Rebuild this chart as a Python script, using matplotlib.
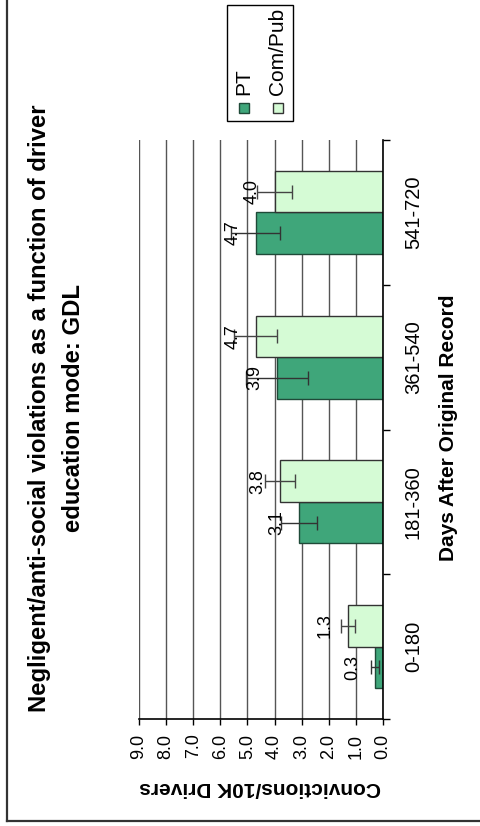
import matplotlib
matplotlib.use("Agg")
import matplotlib.pyplot as plt
import numpy as np
from matplotlib.patches import Rectangle
from matplotlib.lines import Line2D

plt.rcParams['font.family'] = ['Liberation Sans', 'DejaVu Sans']

categories = ["0-180", "181-360", "361-540", "541-720"]
series_names = ["PT", "Com/Pub"]
pt_values = [0.3, 3.1, 3.9, 4.7]
pub_values = [1.3, 3.8, 4.7, 4.0]
pt_err = [0.15, 0.65, 1.15, 0.9]
pub_err = [0.25, 0.55, 0.8, 0.65]
value_ticks = [0, 1, 2, 3, 4, 5, 6, 7, 8, 9]
title_lines = ["Negligent/anti-social violations as a function of driver",
               "education mode: GDL"]
value_title = "Convictions/10K Drivers"
cat_title = "Days After Original Record"

colors = ["#3fa67a", "#d5fbd5"]
edges = ["#1f4a38", "#333333"]

W, H = 481, 826
fig = plt.figure(figsize=(W / 100, H / 100), dpi=100)

def fx(px):
    return px / W

def fy(py):
    return 1 - py / H

ax = fig.add_axes([fx(139), fy(719), fx(383) - fx(139), fy(140) - fy(719)])

y = np.arange(len(categories))
w = 0.286
ax.barh(y - w / 2, pt_values, height=w, color=colors[0], edgecolor=edges[0], linewidth=1.0, zorder=3)
ax.barh(y + w / 2, pub_values, height=w, color=colors[1], edgecolor=edges[1], linewidth=1.0, zorder=3)
ax.errorbar(pt_values, y - w / 2, xerr=pt_err, fmt='none', ecolor='#333333', elinewidth=1.0, capsize=5, capthick=1.0, zorder=4)
ax.errorbar(pub_values, y + w / 2, xerr=pub_err, fmt='none', ecolor='#444444', elinewidth=1.0, capsize=5, capthick=1.0, zorder=4)

for vals, off in ((pt_values, -w / 2), (pub_values, w / 2)):
    for i, v in enumerate(vals):
        ax.annotate(f"{v:.1f}", (v, i + off), xytext=(-16, 0), textcoords='offset points',
                    rotation=90, ha='center', va='center', fontsize=13, zorder=5)

ax.set_xlim(9, 0)
ax.set_ylim(-0.5, len(categories) - 0.5)
ax.set_xticks(value_ticks)
ax.set_xticklabels([f"{t:.1f}" for t in value_ticks], rotation=90, fontsize=13)
ax.tick_params(axis='x', direction='out', length=4.5, width=1, pad=6, colors='black')

ax.yaxis.tick_right()
ax.set_yticks(y)
ax.set_yticklabels(categories, rotation=90, fontsize=14.5, va='center')
ax.set_yticks(np.arange(len(categories) + 1) - 0.5, minor=True)
ax.tick_params(axis='y', which='major', length=0, pad=15)
ax.tick_params(axis='y', which='minor', direction='out', length=5, width=1)

ax.grid(axis='x', color='#555555', linewidth=1.0, zorder=0)
for s in ('left', 'top'):
    ax.spines[s].set_visible(False)
ax.spines['bottom'].set_linewidth(1.2)
ax.spines['right'].set_linewidth(1.2)
ax.spines['bottom'].set_zorder(5)
ax.spines['right'].set_zorder(5)

# axis titles
fig.text(fx(260), fy(787), value_title, rotation=180, ha='center', va='center', fontsize=15, fontweight='bold')
fig.text(fx(449), fy(428), cat_title, rotation=90, ha='center', va='center', fontsize=15, fontweight='bold')

# title
fig.text(fx(40), fy(408), title_lines[0], rotation=90, ha='center', va='center', fontsize=17.2, fontweight='bold')
fig.text(fx(74), fy(408), title_lines[1], rotation=90, ha='center', va='center', fontsize=17.2, fontweight='bold')

# legend (drawn manually, rotated)
fig.patches.append(Rectangle((fx(227), fy(121)), fx(293) - fx(227), fy(5) - fy(121),
                             transform=fig.transFigure, facecolor='white', edgecolor='black', linewidth=1.0))
leg_x = [244, 278]
for i, name in enumerate(series_names):
    sq = 10
    fig.patches.append(Rectangle((fx(leg_x[i] - sq / 2), fy(108 + sq / 2)), fx(sq), sq / H,
                                 transform=fig.transFigure, facecolor=colors[i], edgecolor=edges[i], linewidth=1.0))
    fig.text(fx(leg_x[i]), fy(95), name, rotation=90, ha='center', va='bottom', fontsize=15)

# outer border (left and bottom visible)
fig.lines.append(Line2D([fx(7.5), fx(7.5)], [fy(820.5), 1.0], transform=fig.transFigure, color='#333333', linewidth=1.6))
fig.lines.append(Line2D([fx(7.5), 1.0], [fy(820.5), fy(820.5)], transform=fig.transFigure, color='#333333', linewidth=1.6))

fig.savefig("out.png", dpi=100, facecolor='white')
